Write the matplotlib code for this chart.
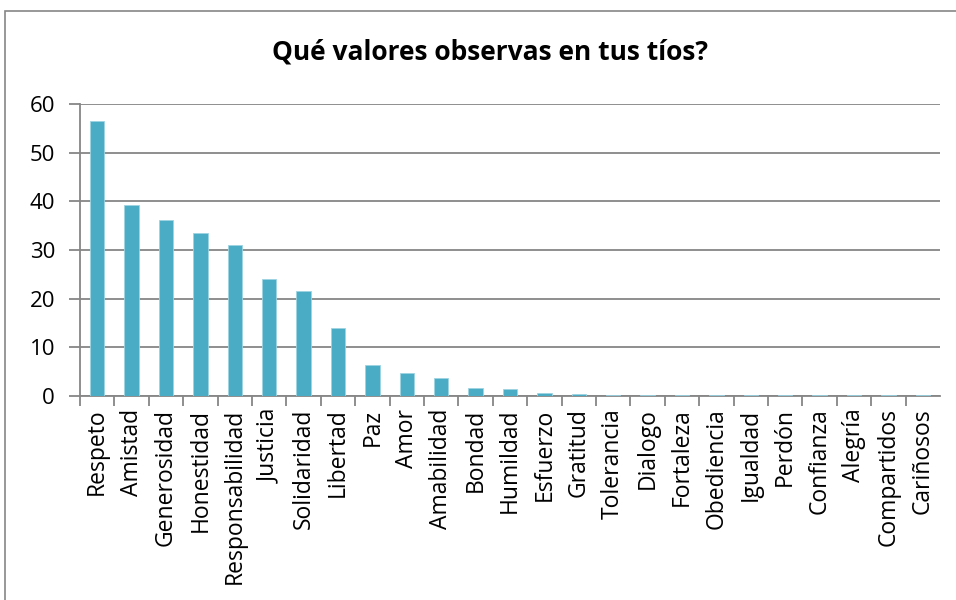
import matplotlib.pyplot as plt
import numpy as np
from matplotlib.patches import Rectangle

categories = [
    "Respeto", "Amistad", "Generosidad", "Honestidad", "Responsabilidad",
    "Justicia", "Solidaridad", "Libertad", "Paz", "Amor", "Amabilidad",
    "Bondad", "Humildad", "Esfuerzo", "Gratitud", "Tolerancia", "Dialogo",
    "Fortaleza", "Obediencia", "Igualdad", "Perdón", "Confianza", "Alegría",
    "Compartidos", "Cariñosos",
]
values = [
    56.6, 39.3, 36.2, 33.5, 31.0,
    24.1, 21.6, 13.9, 6.45, 4.8, 3.6,
    1.65, 1.45, 0.7, 0.5, 0.3, 0.3,
    0.3, 0.12, 0.12, 0.12, 0.12, 0.12,
    0.12, 0.12,
]
yticks = [0, 10, 20, 30, 40, 50, 60]

plt.rcParams["font.family"] = ["Open Sans", "DejaVu Sans"]

fig = plt.figure(figsize=(9.56, 6.0), dpi=100)
fig.patches.append(Rectangle((5 / 956, -0.1), 1.1, 1.1 - 11 / 600,
                             transform=fig.transFigure, fill=False,
                             edgecolor="#868686", linewidth=1.2))

ax = fig.add_axes([80 / 956, 1 - 396 / 600, 860 / 956, 292 / 600])
x = np.arange(len(categories))
ax.bar(x, values, width=0.42, color="#4BACC6", edgecolor="#9ED3E2",
       linewidth=0.6, zorder=3)

ax.set_xlim(-0.5, len(categories) - 0.5)
ax.set_ylim(0, 60)
ax.set_yticks(yticks)
ax.set_yticklabels([str(v) for v in yticks], fontsize=16)
ax.set_xticks(x - 0.5, minor=True)
ax.set_xticks(x)
ax.set_xticklabels(categories, rotation=90, fontsize=16.5)
ax.tick_params(axis="x", which="major", length=0, pad=9)
ax.tick_params(axis="x", which="minor", length=7, width=1.3, color="#868686")
ax.tick_params(axis="y", length=8, width=1.3, color="#868686", pad=10,
               direction="out")

ax.grid(axis="y", color="#868686", linewidth=1.3, zorder=0)
for side in ["top", "right"]:
    ax.spines[side].set_visible(False)
for side in ["left", "bottom"]:
    ax.spines[side].set_color("#868686")
    ax.spines[side].set_linewidth(1.3)

fig.text(490 / 956, 1 - 52 / 600, "Qué valores observas en tus tíos?",
         ha="center", va="center", fontsize=19, fontweight="bold")

fig.savefig("out.png", dpi=100)
